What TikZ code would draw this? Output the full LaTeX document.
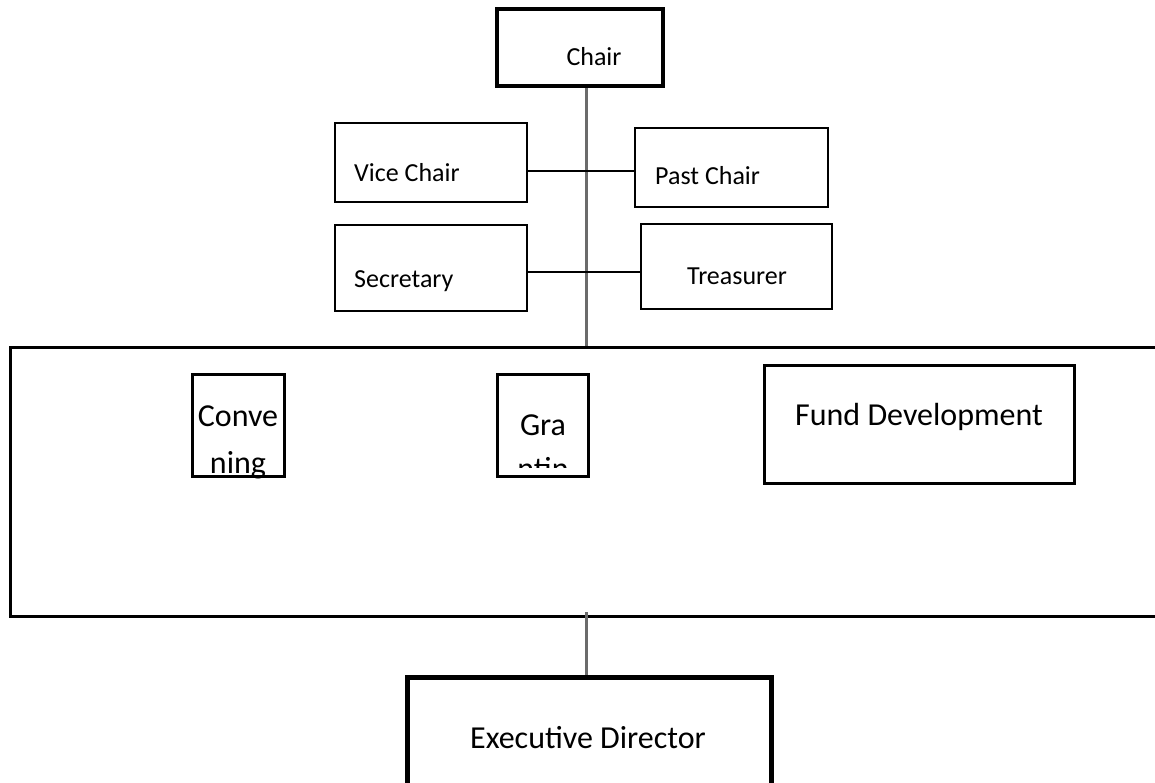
\documentclass[tikz,border=0pt]{standalone}
\usepackage{fontspec}
\setmainfont{Carlito}
\begin{document}
\begin{tikzpicture}[x=1pt,y=-1pt,
  box/.style={draw=black,line width=2.6pt,inner sep=0pt,fill=none},
  lbl/.style={inner sep=0pt,font=\fontsize{26}{31}\selectfont},
  biglbl/.style={inner sep=0pt,font=\fontsize{32}{44}\selectfont},
  link/.style={draw=black,line width=2pt},
  trunk/.style={draw=black!58,line width=3pt}]
\useasboundingbox (0,0) rectangle (1155,782);
\clip (0,0) rectangle (1155,782);

% officers
\node[box,line width=4pt,minimum width=166pt,minimum height=77pt] (chair) at (580,47.5) {};
\node[lbl,anchor=base] (chairt) at (594,65) {Chair};

\node[box,minimum width=192pt,minimum height=79pt] (vice) at (431,162.5) {};
\node[lbl,anchor=base west] (vicet) at (354,181) {Vice Chair};
\node[box,minimum width=193pt,minimum height=79pt] (past) at (731.5,167.5) {};
\node[lbl,anchor=base west] (pastt) at (655,184) {Past Chair};
\node[box,minimum width=192pt,minimum height=86pt] (sec) at (431,268) {};
\node[lbl,anchor=base west] (sect) at (354,287) {Secretary};
\node[box,minimum width=191pt,minimum height=85pt] (treas) at (736.5,266.5) {};
\node[lbl,anchor=base west] (treast) at (687,284) {Treasurer};

% committee frame
\node[box,line width=3pt,minimum width=1165pt,minimum height=269pt] (comm) at (592.5,481.5) {};

% committee boxes; narrow ones cut their overflowing text
\node[box,line width=3pt,minimum width=92pt,minimum height=102pt] (conv) at (238,425) {};
\begin{scope}
  \clip ([shift={(1.5pt,1.5pt)}]conv.north west) rectangle ([shift={(-1.5pt,-1.5pt)}]conv.south east);
  \node[biglbl,anchor=base] (convt) at (238,426) {Conve};
  \node[biglbl,anchor=base] (convt2) at (238,473) {ning};
\end{scope}
\node[box,line width=3pt,minimum width=91pt,minimum height=102pt] (grant) at (542.5,425) {};
\begin{scope}
  \clip (grant.north west) rectangle (grant.east |- 0,467);
  \node[biglbl,anchor=base] (grantt) at (543,435) {Gra};
  \node[biglbl,anchor=base] (grantt2) at (543,479) {ntin};
  \node[biglbl,anchor=base] (grantt3) at (543,523) {g};
\end{scope}
\node[box,line width=3pt,minimum width=310pt,minimum height=118pt] (fund) at (919,424) {};
\node[biglbl,anchor=base] (fundt) at (919,425) {Fund Development};

% staff
\node[box,line width=5pt,minimum width=364pt,minimum height=120pt] (ed) at (589,737) {};
\node[biglbl,anchor=base] (edt) at (588,748) {Executive Director};

% connectors
\coordinate (r1) at (586,171);
\coordinate (r2) at (586,272);
\coordinate (top) at (586,88);
\coordinate (low) at (586,612);
\draw[trunk] (top) -- (top |- comm.north);
\draw[link] (vice.east |- r1) -- (past.west |- r1);
\draw[link] (sec.east |- r2) -- (treas.west |- r2);
\draw[trunk] (low) -- (low |- ed.north);
\end{tikzpicture}
\end{document}
